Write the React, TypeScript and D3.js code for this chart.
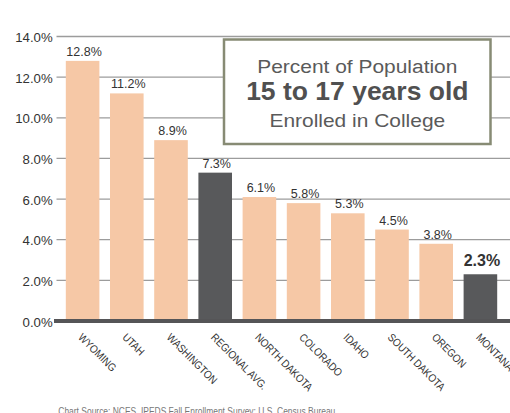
import React from "react";
import * as d3 from "d3";

const categories = ["WYOMING", "UTAH", "WASHINGTON", "REGIONAL AVG.", "NORTH DAKOTA", "COLORADO", "IDAHO", "SOUTH DAKOTA", "OREGON", "MONTANA"];
const values = [12.8, 11.2, 8.9, 7.3, 6.1, 5.8, 5.3, 4.5, 3.8, 2.3];
const highlighted = ["REGIONAL AVG.", "MONTANA"];
const boldLabel = ["MONTANA"];
const yTicks = [0, 2, 4, 6, 8, 10, 12, 14];
const titleLines = ["Percent of Population", "15 to 17 years old", "Enrolled in College"];
const source = "Chart Source: NCES, IPEDS Fall Enrollment Survey; U.S. Census Bureau";

const W = 510;
const H = 413;
const FONT = "'Liberation Sans', Arial, Helvetica, sans-serif";

export default function App() {
  const x = d3.scaleBand<string>().domain(categories).range([60.5, 502.5]).paddingInner(0.24).paddingOuter(0.12);
  const y = d3.scaleLinear().domain([0, 14]).range([321, 36.5]);
  const peach = "#f6c8a6";
  const dark = "#58595b";

  return (
    <svg width={W} height={H} style={{ position: "absolute", left: 0, top: 0, background: "#fff" }} fontFamily={FONT}>
      <rect x={0} y={0} width={W} height={H} fill="#fff" />
      {yTicks.filter((t) => t > 0).map((t) => (
        <line key={"g" + t} x1={56.5} x2={W} y1={y(t)} y2={y(t)} stroke="#9c9c9c" strokeWidth={1.3} />
      ))}
      {yTicks.map((t) => (
        <text key={"yt" + t} transform={`translate(52.7,${y(t) + 5.5}) scale(1.1,1)`} textAnchor="end" fontSize={12} fill="#333">
          {d3.format(".1f")(t) + "%"}
        </text>
      ))}
      {categories.map((c, i) => (
        <rect key={"b" + c} x={x(c)} y={y(values[i])} width={x.bandwidth()} height={y(0) - y(values[i])} fill={highlighted.includes(c) ? dark : peach} />
      ))}
      <line x1={54} x2={W} y1={y(0)} y2={y(0)} stroke="#555557" strokeWidth={4} />
      {categories.map((c, i) => {
        const bold = boldLabel.includes(c);
        return (
          <text key={"v" + c} x={(x(c) as number) + x.bandwidth() / 2 + 1.5} y={y(values[i]) - (bold ? 8 : 5)} textAnchor="middle" fontSize={bold ? 16 : 12.5} fontWeight={bold ? "bold" : "normal"} fill="#333">
            {values[i].toFixed(1) + "%"}
          </text>
        );
      })}
      {categories.map((c) => (
        <text key={"x" + c} transform={`translate(${(x(c) as number) + x.bandwidth() / 2 - 5},338) rotate(45) scale(0.88,1)`} fontSize={11} fill="#333">
          {c}
        </text>
      ))}
      <rect x={224} y={39.5} width={266.5} height={104.5} fill="#fff" stroke="#878b74" strokeWidth={2.5} />
      <text transform="translate(357.3,72.7) scale(1.12,1)" textAnchor="middle" fontSize={18.7} fill="#5a5a5a">{titleLines[0]}</text>
      <text transform="translate(357.3,99.5) scale(1.06,1)" textAnchor="middle" fontSize={25} fontWeight="bold" fill="#505050">{titleLines[1]}</text>
      <text transform="translate(357.3,127.3) scale(1.12,1)" textAnchor="middle" fontSize={18.7} fill="#5a5a5a">{titleLines[2]}</text>
      <text x={58.3} y={414.5} fontSize={11} fill="#777" textLength={277} lengthAdjust="spacingAndGlyphs">{source}</text>
    </svg>
  );
}
